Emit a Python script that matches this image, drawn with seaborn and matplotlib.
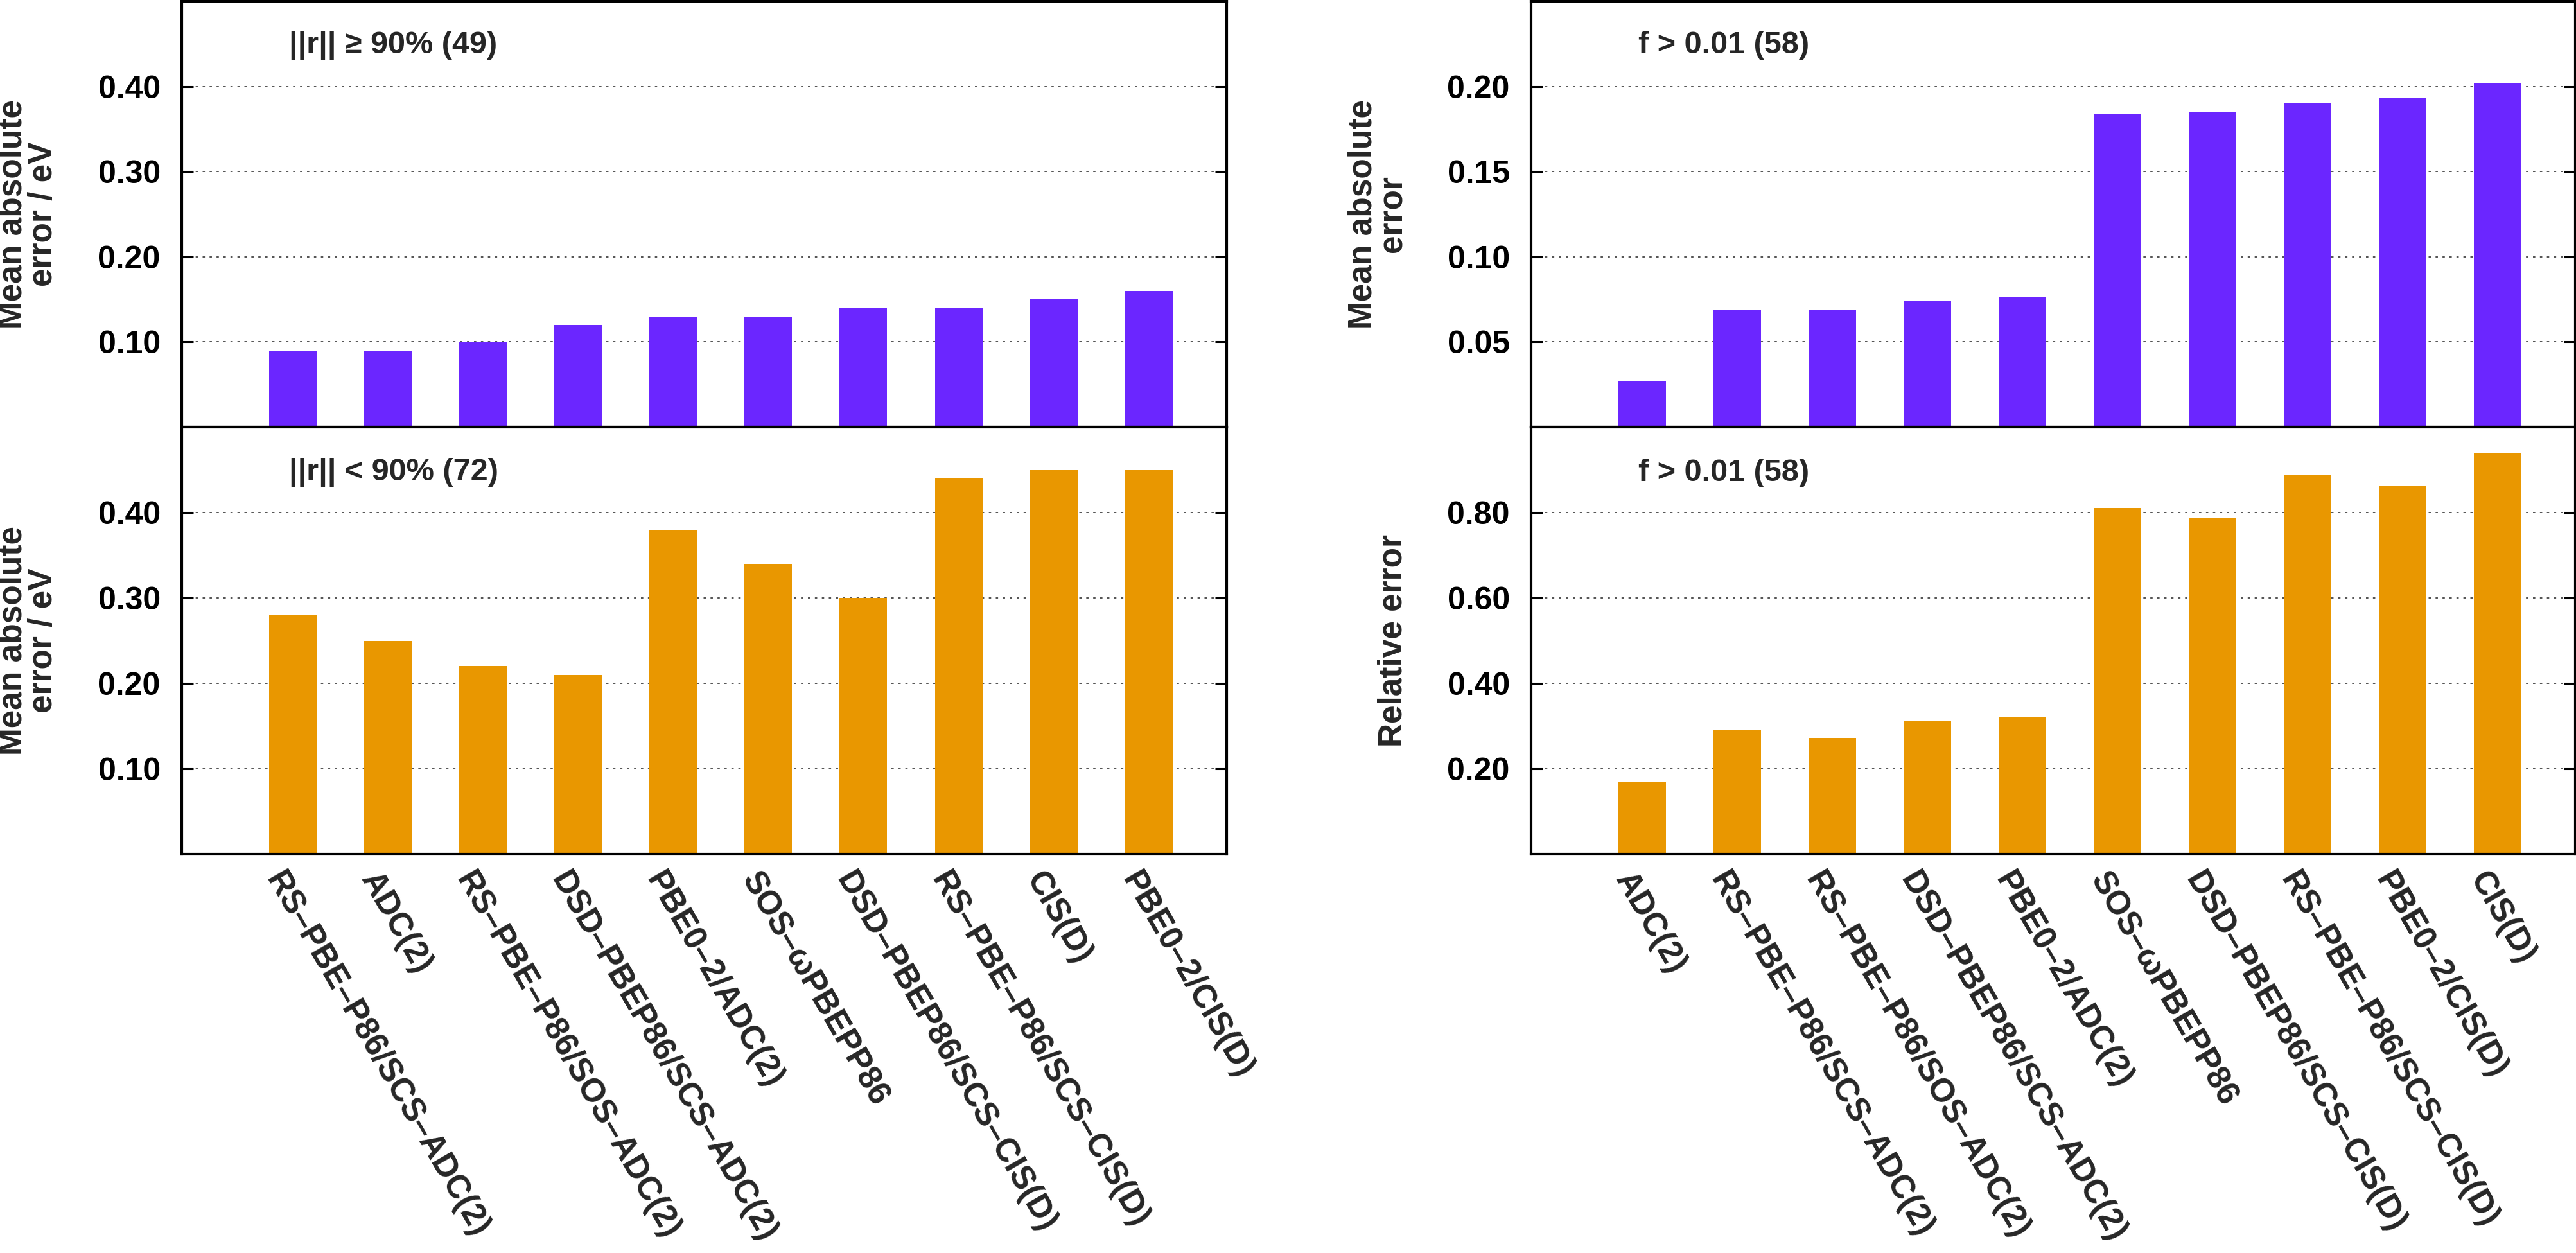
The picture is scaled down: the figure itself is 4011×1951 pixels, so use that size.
import matplotlib
matplotlib.use("Agg")
import matplotlib.pyplot as plt
import matplotlib.transforms as mtrans
import seaborn as sns

sns.set_style("white")
plt.rcParams["font.family"] = ["Liberation Sans", "DejaVu Sans"]
plt.rcParams["font.weight"] = "bold"

# ---------------- data ----------------
methods_left = [
    "RS–PBE–P86/SCS–ADC(2)", "ADC(2)", "RS–PBE–P86/SOS–ADC(2)",
    "DSD–PBEP86/SCS–ADC(2)", "PBE0–2/ADC(2)", "SOS–ωPBEPP86",
    "DSD–PBEP86/SCS–CIS(D)", "RS–PBE–P86/SCS–CIS(D)", "CIS(D)", "PBE0–2/CIS(D)",
]
mae_high_r = [0.09, 0.09, 0.10, 0.12, 0.13, 0.13, 0.14, 0.14, 0.15, 0.16]
mae_low_r = [0.28, 0.25, 0.22, 0.21, 0.38, 0.34, 0.30, 0.44, 0.45, 0.45]

methods_right = [
    "ADC(2)", "RS–PBE–P86/SCS–ADC(2)", "RS–PBE–P86/SOS–ADC(2)",
    "DSD–PBEP86/SCS–ADC(2)", "PBE0–2/ADC(2)", "SOS–ωPBEPP86",
    "DSD–PBEP86/SCS–CIS(D)", "RS–PBE–P86/SCS–CIS(D)", "PBE0–2/CIS(D)", "CIS(D)",
]
mae_bright = [0.027, 0.069, 0.069, 0.074, 0.076, 0.184, 0.185, 0.190, 0.193, 0.202]
rel_bright = [0.168, 0.290, 0.272, 0.313, 0.320, 0.810, 0.788, 0.889, 0.863, 0.938]

ticks_left = [0.10, 0.20, 0.30, 0.40]
ticks_right_top = [0.05, 0.10, 0.15, 0.20]
ticks_right_bot = [0.20, 0.40, 0.60, 0.80]

PURPLE = "#6B26FF"
ORANGE = "#E99700"

W, H = 4012, 1951
fig = plt.figure(figsize=(W / 100, H / 100), dpi=100)


def px_axes(x0, x1, y0, y1):
    return fig.add_axes([x0 / W, 1 - y1 / H, (x1 - x0) / W, (y1 - y0) / H])


ax_tl = px_axes(283, 1910, 2, 665)
ax_bl = px_axes(283, 1910, 665, 1330)
ax_tr = px_axes(2384, 4010, 2, 665)
ax_br = px_axes(2384, 4010, 665, 1330)


def draw(ax, cats, vals, color, ylim, yticks, ylabel, title, title_y, show_x):
    sns.barplot(x=cats, y=vals, order=cats, color=color, width=0.5,
                saturation=1, edgecolor="none", ax=ax)
    ax.set_xlim(-1.17, 9.82)
    ax.set_ylim(*ylim)
    ax.set_yticks(yticks)
    ax.set_yticklabels([f"{t:.2f}" for t in yticks])
    ax.yaxis.grid(True, linestyle=(0, (2, 4)), color="#444444", lw=1.3)
    ax.xaxis.grid(False)
    ax.set_axisbelow(True)
    ax.tick_params(axis="y", direction="in", length=13, width=2.2,
                   left=True, right=True, labelsize=36, pad=24, colors="black")
    ax.tick_params(axis="x", length=0, pad=14, bottom=False)
    for s in ax.spines.values():
        s.set_visible(True)
        s.set_linewidth(3)
        s.set_color("black")
    ax.set_xlabel("")
    ax.set_ylabel(ylabel, fontsize=37, fontweight="bold", linespacing=0.95,
                  multialignment="center")
    ax.yaxis.set_label_coords(-0.1174, 0.5)
    ax.text(0.1026, title_y, title, transform=ax.transAxes, ha="left",
            va="center", fontsize=35, fontweight="bold")
    if show_x:
        ax.set_xticks(range(len(cats)))
        ax.set_xticklabels(cats, rotation=-60, ha="left", va="top",
                           rotation_mode="anchor", fontsize=37,
                           fontweight="bold")
        off = mtrans.ScaledTranslation(-10 / 100, 0, fig.dpi_scale_trans)
        for lab in ax.get_xticklabels():
            lab.set_transform(lab.get_transform() + off)
    else:
        ax.tick_params(axis="x", labelbottom=False)


draw(ax_tl, methods_left, mae_high_r, PURPLE, (0, 0.5), ticks_left,
     "Mean absolute\nerror / eV", "||r|| ≥ 90% (49)", 0.896, False)
draw(ax_bl, methods_left, mae_low_r, ORANGE, (0, 0.5), ticks_left,
     "Mean absolute\nerror / eV", "||r|| < 90% (72)", 0.893, True)
draw(ax_tr, methods_right, mae_bright, PURPLE, (0, 0.25), ticks_right_top,
     "Mean absolute\nerror", "f > 0.01 (58)", 0.896, False)
draw(ax_br, methods_right, rel_bright, ORANGE, (0, 1.0), ticks_right_bot,
     "Relative error", "f > 0.01 (58)", 0.893, True)

fig.savefig("out.png", dpi=100)
